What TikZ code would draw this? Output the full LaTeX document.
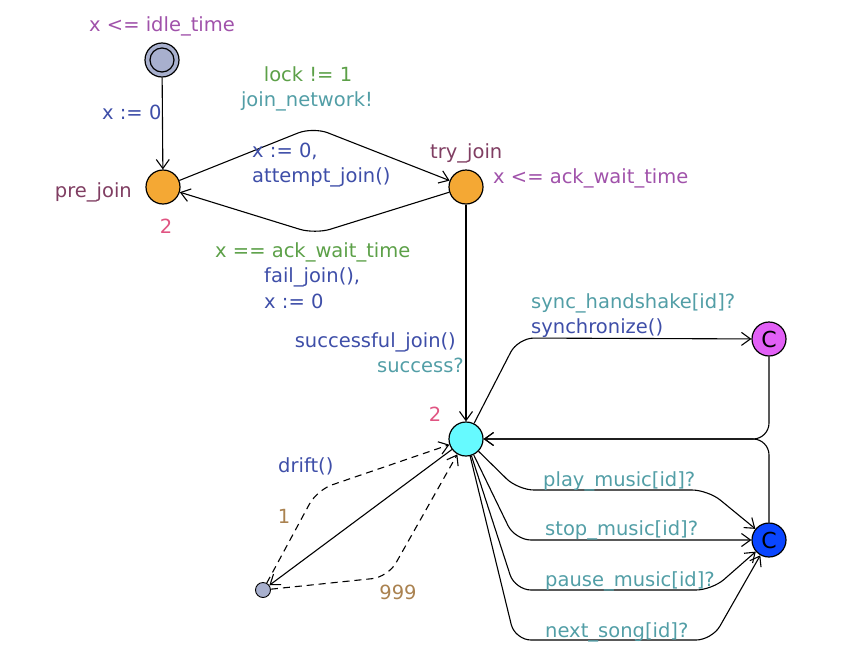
\documentclass[tikz,border=0pt]{standalone}
\usepackage{fontspec}
\setmainfont{DejaVu Sans}
\usetikzlibrary{arrows.meta,calc}
\definecolor{locname}{RGB}{128,62,98}
\definecolor{invcol}{RGB}{160,82,170}
\definecolor{guardcol}{RGB}{92,160,72}
\definecolor{synccol}{RGB}{82,158,166}
\definecolor{updcol}{RGB}{62,78,168}
\definecolor{priocol}{RGB}{224,84,130}
\definecolor{weightcol}{RGB}{170,130,80}
\definecolor{locorange}{RGB}{244,168,52}
\definecolor{locinit}{RGB}{168,176,206}
\definecolor{loccyan}{RGB}{102,250,255}
\definecolor{locpink}{RGB}{226,96,246}
\definecolor{locblue}{RGB}{10,70,255}
\newcommand{\uppfont}{\fontsize{19.5}{24}\selectfont}
\tikzset{
  loc/.style={draw=black, circle, fill=#1, minimum size=34pt, inner sep=0pt, line width=1.2pt, font=\uppfont},
  loc/.default={locorange},
  branch/.style={draw=black, circle, fill=locinit, minimum size=15pt, inner sep=0pt, line width=0.9pt},
  edge/.style={-{Straight Barb[length=9pt,width=13pt]}, line width=1.1pt, rounded corners=16pt},
  prob/.style={edge, dashed, dash pattern=on 7pt off 5pt},
  lbl/.style={text=#1, inner sep=0pt, font=\uppfont},
  lbl/.default={black}
}

\begin{document}
\begin{tikzpicture}[x=1pt, y=-1pt]
  \useasboundingbox (0,0) rectangle (864,656);
  % locations
  \node[loc=locinit] (idle) at (162,60) {};
  \draw[line width=1.2pt] (idle) circle (12pt);
  \node[loc] (pj) at (163,187) {};
  \node[loc] (tj) at (466,187) {};
  \node[loc=loccyan] (ctr) at (466,439) {};
  \node[loc=locpink] (sync) at (769,339) {\fontsize{22}{22}\selectfont C};
  \node[loc=locblue] (music) at (769,540) {\fontsize{22}{22}\selectfont C};
  \node[branch] (br) at (263,590) {};
  % names, invariants, rates
  \node[lbl=invcol, anchor=base] (invidle) at (162,31) {x <= idle\_time};
  \node[lbl=locname, anchor=base east] (pjname) at (132,197) {pre\_join};
  \node[lbl=priocol, anchor=base] (pjrate) at (166,233) {2};
  \node[lbl=locname, anchor=base west] (tjname) at (430,158) {try\_join};
  \node[lbl=invcol, anchor=base west] (invtj) at (493,183) {x <= ack\_wait\_time};
  \node[lbl=priocol, anchor=base] (ctrrate) at (435,421) {2};
  % edges
  \draw[edge] (idle) -- (pj);
  \node[lbl=updcol, anchor=base west] (upd0) at (102,119) {x := 0};
  \draw[edge] (pj) -- (313,127) -- (tj);
  \node[lbl=guardcol, anchor=base] (g1) at (308,81) {lock != 1};
  \node[lbl=synccol, anchor=base] (s1) at (307,106) {join\_network!};
  \node[lbl=updcol, anchor=base west] (u1a) at (252,157) {x := 0,};
  \node[lbl=updcol, anchor=base west] (u1b) at (252,182) {attempt\_join()};
  \draw[edge] (tj) -- (315,234) -- (pj);
  \node[lbl=guardcol, anchor=base west] (g2) at (215,257) {x == ack\_wait\_time};
  \node[lbl=updcol, anchor=base west] (u2a) at (264,282) {fail\_join(),};
  \node[lbl=updcol, anchor=base west] (u2b) at (264,308) {x := 0};
  \draw[edge] (tj) -- (ctr);
  \node[lbl=updcol, anchor=base east] (u3) at (456,347) {successful\_join()};
  \node[lbl=synccol, anchor=base east] (s3) at (464,372) {success?};
  \draw[edge] (ctr) -- (518,338) -- (sync);
  \node[lbl=synccol, anchor=base west] (s4) at (531,308) {sync\_handshake[id]?};
  \node[lbl=updcol, anchor=base west] (u4) at (531,333) {synchronize()};
  \draw[edge] (sync) -- (769,439) -- (ctr);
  \draw[edge] (music) -- (769,439) -- (ctr);
  \draw[edge] (ctr) -- (518,490) -- (708,490) -- (music);
  \node[lbl=synccol, anchor=base west] (s5) at (543,486) {play\_music[id]?};
  \draw[edge] (ctr) -- (515,540) -- (music);
  \node[lbl=synccol, anchor=base west] (s6) at (545,535) {stop\_music[id]?};
  \draw[edge] (ctr) -- (515,590) -- (712,590) -- (music);
  \node[lbl=synccol, anchor=base west] (s7) at (545,586) {pause\_music[id]?};
  \draw[edge] (ctr) -- (515,640) -- (712,640) -- (music);
  \node[lbl=synccol, anchor=base west] (s8) at (545,637) {next\_song[id]?};
  % drift branch
  \draw[edge] (ctr) -- (br);
  \node[lbl=updcol, anchor=base west] (u9) at (278,472) {drift()};
  \draw[prob] (br) -- (317,490) -- (ctr);
  \node[lbl=weightcol, anchor=base] (w1) at (284,523) {1};
  \draw[prob] (br) -- (388,577) -- (ctr);
  \node[lbl=weightcol, anchor=base] (w2) at (398,599) {999};
\end{tikzpicture}
\end{document}
